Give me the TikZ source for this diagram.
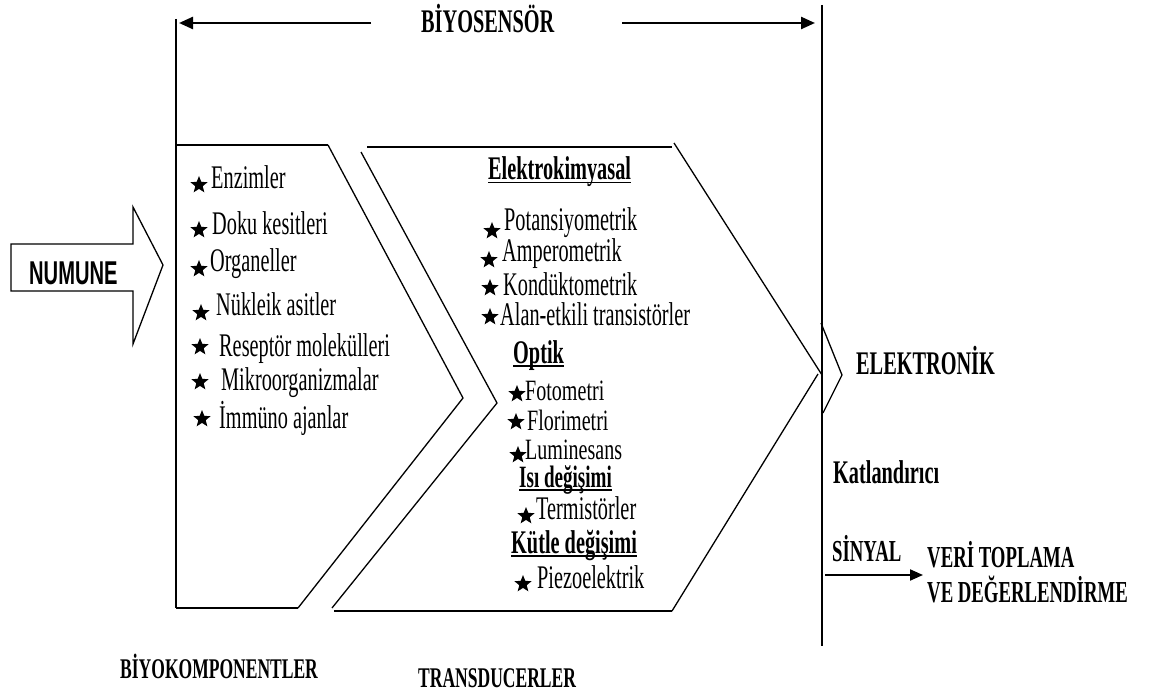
\documentclass[tikz,border=0pt]{standalone}
\usepackage{fontspec}
\setmainfont{Liberation Serif}[FakeStretch=0.615]
\newfontfamily\tightserif{Liberation Serif}[FakeStretch=0.68]
\newfontfamily\labelsans{Liberation Sans}[FakeStretch=0.61]
\usetikzlibrary{arrows.meta,shapes.geometric}
% underlined heading with the rule close to the baseline
\newcommand\ulbar[1]{\setbox0\hbox{#1}\rlap{\rule[-3.5pt]{\wd0}{1.6pt}}\box0}
\begin{document}
\begin{tikzpicture}[x=1pt,y=-1pt,
  txt/.style={anchor=base west,inner sep=0,font=\fontsize{33}{36}\selectfont},
  tighttxt/.style={anchor=base west,inner sep=0,font=\tightserif\fontsize{29.5}{32}\selectfont},
  hdr/.style={anchor=base west,inner sep=0,font=\fontsize{33}{36}\selectfont\bfseries},
  subhdr/.style={anchor=base west,inner sep=0,font=\fontsize{31}{34}\selectfont\bfseries},
  midhdr/.style={anchor=base west,inner sep=0,font=\fontsize{30.5}{33}\selectfont\bfseries},
  foot/.style={anchor=base west,inner sep=0,font=\fontsize{28.5}{31}\selectfont\bfseries},
  starmark/.style={star,star points=5,star point ratio=2.3,fill=black,draw=none,minimum size=18pt,inner sep=0},
  edge/.style={line width=1.3pt},
  rim/.style={line width=2pt},
  bigarrow/.style={line width=2.4pt,-{Triangle[length=14pt,width=12pt]}},
  sigarrow/.style={line width=2pt,-{Triangle[length=13pt,width=11pt]}}]
\useasboundingbox (0,0) rectangle (1152,695);

% --- biosensor span ---
\node[hdr] (bios) at (421,33) {BİYOSENSÖR};
\coordinate (lt) at (371,23);
\coordinate (lh) at (179,23);
\coordinate (rt) at (622,23);
\coordinate (rh) at (815,23);
\draw[bigarrow] (lt) -- (lh);
\draw[bigarrow] (rt) -- (rh);

\coordinate (vl1) at (176,19);
\coordinate (vl2) at (176,608);
\coordinate (vr1) at (822,5);
\coordinate (vr2) at (822,646);
\draw[edge] (vl1) -- (vl2);
\draw[edge] (vr1) -- (vr2);

% --- sample arrow ---
\coordinate (n1) at (11,244);
\coordinate (n2) at (133,244);
\coordinate (n3) at (133,207);
\coordinate (n4) at (163,265);
\coordinate (n5) at (133,344);
\coordinate (n6) at (133,291);
\coordinate (n7) at (11,291);
\draw[edge] (n1) -- (n2) -- (n3) -- (n4) -- (n5) -- (n6) -- (n7) -- cycle;
\node[anchor=base west,inner sep=0,font=\labelsans\bfseries\fontsize{33}{36}\selectfont] (num) at (29,284) {NUMUNE};

% --- biocomponent chevron ---
\coordinate (b1) at (176,145);
\coordinate (b2) at (328,145);
\coordinate (b3) at (463,398);
\coordinate (b4) at (298,608);
\coordinate (b5) at (176,608);
\draw[rim] (b1) -- (b2);
\draw[edge] (b2) -- (b3) -- (b4);
\draw[rim] (b4) -- (b5);

% --- transducer chevron ---
\coordinate (t1) at (361,152);
\coordinate (t2) at (497,403);
\coordinate (t3) at (332,608);
\coordinate (t4) at (367,147);
\coordinate (t5) at (672,147);
\coordinate (t6) at (674,143);
\coordinate (t7) at (822,375);
\coordinate (t8) at (818,374);
\coordinate (t9) at (672,611);
\coordinate (t10) at (334,611);
\draw[edge] (t1) -- (t2) -- (t3);
\draw[rim] (t4) -- (t5);
\draw[edge] (t6) -- (t7);
\draw[edge] (t8) -- (t9);
\draw[rim] (t9) -- (t10);

% --- electronics chevron ---
\coordinate (e1) at (821,323);
\coordinate (e2) at (842,375);
\coordinate (e3) at (823,413);
\draw[edge] (e1) -- (e2) -- (e3);

% --- biocomponent list ---
\node[starmark] (sa) at (199,185) {};
\node[txt] (la) at (211,189) {Enzimler};
\node[starmark] (sb) at (199,230) {};
\node[txt] (lb) at (212,235) {Doku kesitleri};
\node[starmark] (sc) at (199,269) {};
\node[txt] (lc) at (210,272) {Organeller};
\node[starmark] (sd) at (201,313) {};
\node[txt] (ld) at (216,316) {Nükleik asitler};
\node[starmark] (se) at (200,347) {};
\node[txt] (le) at (219,356) {Reseptör molekülleri};
\node[starmark] (sf) at (200,382) {};
\node[txt] (lf) at (221,390) {Mikroorganizmalar};
\node[starmark] (sg) at (202,419) {};
\node[txt] (lg) at (219,428) {İmmüno ajanlar};

% --- transducer list ---
\node[hdr] (h1) at (488,180) {\ulbar{Elektrokimyasal}};
\node[starmark] (ta) at (492,231) {};
\node[txt] (ma) at (504,231) {Potansiyometrik};
\node[starmark] (tb) at (489,260) {};
\node[txt] (mb) at (502,262) {Amperometrik};
\node[starmark] (tc) at (490,288) {};
\node[txt] (mc) at (503,296) {Kondüktometrik};
\node[starmark] (td) at (490,317) {};
\node[txt] (md) at (500,326) {Alan-etkili transistörler};
\node[hdr] (h2) at (513,363) {\ulbar{Optik}};
\node[starmark] (te) at (517,394) {};
\node[tighttxt] (me) at (525,400) {Fotometri};
\node[starmark] (tf) at (516,422) {};
\node[tighttxt] (mf) at (527,430) {Florimetri};
\node[starmark] (tg) at (518,455) {};
\node[tighttxt] (mg) at (525,459) {Luminesans};
\node[subhdr] (h3) at (519,487) {\ulbar{Isı değişimi}};
\node[starmark] (th) at (526,516) {};
\node[txt] (mh) at (536,519) {Termistörler};
\node[hdr] (h4) at (511,553) {\ulbar{Kütle değişimi}};
\node[starmark] (ti) at (523,584) {};
\node[txt] (mi) at (537,588) {Piezoelektrik};

% --- electronics side ---
\node[hdr] (elk) at (856,374) {ELEKTRONİK};
\node[hdr] (kat) at (833,483) {Katlandırıcı};
\node[midhdr] (sig) at (832,561) {SİNYAL};
\node[midhdr] (veri) at (927,567) {VERİ TOPLAMA};
\node[midhdr] (deg) at (927,602) {VE DEĞERLENDİRME};
\coordinate (sa1) at (825,575);
\coordinate (sa2) at (923,575);
\draw[sigarrow] (sa1) -- (sa2);

% --- captions ---
\node[foot] (cb) at (120,678) {BİYOKOMPONENTLER};
\node[foot] (ct) at (418,687) {TRANSDUCERLER};
\end{tikzpicture}
\end{document}
